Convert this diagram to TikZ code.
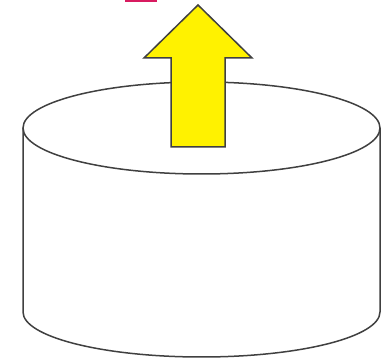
\documentclass[tikz,border=0pt]{standalone}
\usepackage{xcolor}
\usepackage{tikz}
\definecolor{edgegray}{HTML}{404040}
\definecolor{topmark}{HTML}{D81B60}

\begin{document}
\begin{tikzpicture}[
		x=1pt, y=1pt,
		line/.style={draw=edgegray, line width=1.5pt},
		body/.style={line, fill=white},
		uparrow/.style={line, fill=yellow, line join=miter}
		]
		
		% Frame
		\useasboundingbox (0,0) rectangle (391,361);
		
		% Mark at the top edge
		\fill[topmark] (125,359) rectangle (157,361);
		
		% Cylinder body
		\path[body] (23,233) -- (23,49)
		arc[start angle=180, end angle=360, x radius=178.5, y radius=45]
		-- (380,233);
		
		% Cylinder top
		\path[body] (201.5,233) ellipse [x radius=178.5, y radius=46];
		
		% Arrow
		\path[uparrow] (171,214) -- (171,303) -- (144,303) -- (198,356)
		-- (252,303) -- (225,303) -- (225,214) -- cycle;
		
	\end{tikzpicture}
\end{document}
